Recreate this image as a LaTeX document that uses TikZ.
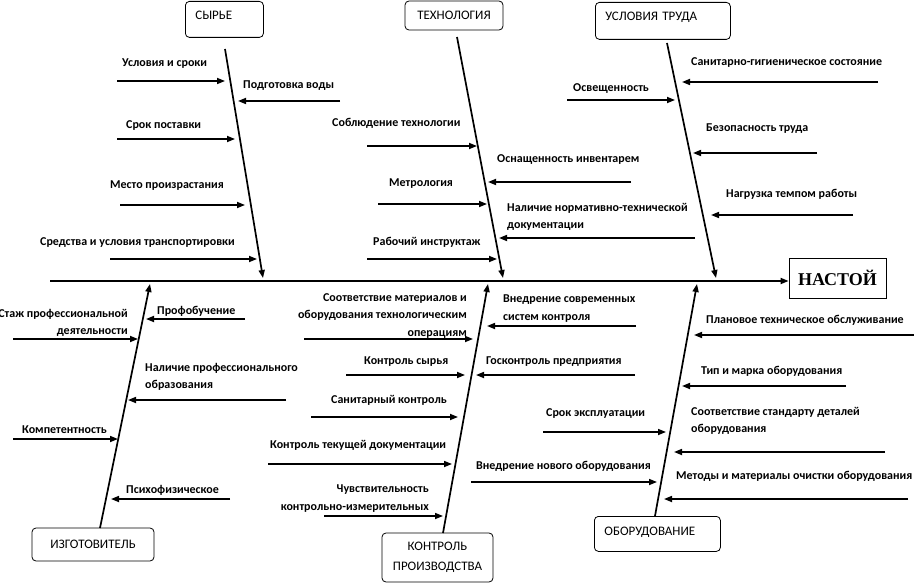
\documentclass[tikz,border=0pt]{standalone}
\usepackage{fontspec}
\setmainfont{Carlito}
\newfontfamily\headfont{Liberation Serif}
\usetikzlibrary{arrows.meta}
\newcommand\harrow[4]{\coordinate (#1s) at (#2,#4); \coordinate (#1e) at (#3,#4); \draw[sub] (#1s) -- (#1e);}
\begin{document}
\begin{tikzpicture}[x=1pt,y=-1pt,
  tip/.style={-{Triangle[length=8pt,width=6pt]}},
  bone/.style={line width=1.7pt, tip},
  sub/.style={line width=1.6pt, tip},
  lbl/.style={font=\fontsize{12}{17.5}\selectfont\bfseries, inner sep=0pt},
  cat/.style={draw, rounded corners=4pt, line width=0.8pt, font=\fontsize{13}{20}\selectfont, inner sep=0pt}]
\useasboundingbox (0,0) rectangle (914,583);

% category boxes
\node[cat, anchor=north west, inner xsep=10pt, text width=58pt, text height=18pt, text depth=18pt, align=left] (syr) at (185,1) {СЫРЬЕ};
\node[cat, minimum width=98pt, minimum height=29pt] (tech) at (454,15.5) {ТЕХНОЛОГИЯ};
\node[cat, anchor=north west, inner xsep=10pt, text width=115pt, text height=18pt, text depth=19pt, align=left] (usl) at (595,2) {УСЛОВИЯ ТРУДА};
\node[draw, line width=0.8pt, minimum width=97pt, minimum height=40pt, inner sep=0pt, font=\headfont\bfseries\fontsize{18}{20}\selectfont] (nast) at (837.5,278) {НАСТОЙ};
\node[cat, minimum width=122pt, minimum height=33pt] (izg) at (93,544.5) {ИЗГОТОВИТЕЛЬ};
\node[cat, minimum width=111pt, minimum height=49pt, align=center] (kontr) at (437.5,557.5) {КОНТРОЛЬ\\ПРОИЗВОДСТВА};
\node[cat, anchor=north west, inner xsep=10pt, text width=106pt, text height=19pt, text depth=16pt, align=left] (obor) at (594,516) {ОБОРУДОВАНИЕ};

% spine
\coordinate (sp0) at (50,281);
\draw[bone] (sp0) -- (nast.west |- sp0);

% bones
\coordinate (b1s) at (225,49);  \coordinate (b1e) at (263,278);
\coordinate (b2s) at (457,37);  \coordinate (b2e) at (503,278);
\coordinate (b3s) at (667,43);  \coordinate (b3e) at (716,278);
\coordinate (b4s) at (100,528); \coordinate (b4e) at (150,284);
\coordinate (b5s) at (443,533); \coordinate (b5e) at (488,284);
\coordinate (b6s) at (655,516); \coordinate (b6e) at (697,284);
\foreach \i in {1,...,6} \draw[bone] (b\i s) -- (b\i e);

% СЫРЬЕ
\harrow{a1}{117}{225}{81}
\harrow{a2}{340}{238}{101}
\harrow{a3}{117}{235}{139}
\harrow{a4}{120}{245}{205}
\harrow{a5}{110}{257}{259}
\node[lbl, anchor=base west] (l1) at (122,67) {Условия и сроки};
\node[lbl, anchor=base west] (l2) at (243,89) {Подготовка воды};
\node[lbl, anchor=base west] (l3) at (126,129) {Срок поставки};
\node[lbl, anchor=base west] (l4) at (110,189) {Место произрастания};
\node[lbl, anchor=base west] (l5) at (40,245) {Средства и условия транспортировки};

% ТЕХНОЛОГИЯ
\harrow{c1}{367}{477}{146}
\harrow{c2}{631}{488}{182}
\harrow{c3}{378}{487}{204}
\harrow{c4}{695}{499}{238}
\harrow{c5}{367}{497}{259}
\node[lbl, anchor=base west] (m1) at (332,127) {Соблюдение технологии};
\node[lbl, anchor=base west] (m2) at (497,163) {Оснащенность инвентарем};
\node[lbl, anchor=base west] (m3) at (389,187) {Метрология};
\node[lbl, anchor=north west, align=left] (m4) at (507,203) {Наличие нормативно-технической\\документации};
\node[lbl, anchor=base west] (m5) at (373,245) {Рабочий инструктаж};

% УСЛОВИЯ ТРУДА
\harrow{d1}{878}{682}{82}
\harrow{d2}{567}{675}{100}
\harrow{d3}{817}{693}{153}
\harrow{d4}{853}{711}{215}
\node[lbl, anchor=base west] (n1) at (691,66) {Санитарно-гигиеническое состояние};
\node[lbl, anchor=base west] (n2) at (573,92) {Освещенность};
\node[lbl, anchor=base west] (n3) at (706,132) {Безопасность труда};
\node[lbl, anchor=base west] (n4) at (726,198) {Нагрузка темпом работы};

% ИЗГОТОВИТЕЛЬ
\harrow{e1}{13}{138}{339}
\harrow{e2}{245}{146}{319}
\harrow{e3}{286}{128}{400}
\harrow{e4}{13}{118}{439}
\harrow{e5}{230}{111}{499}
\node[lbl, anchor=north east, align=right] (o1) at (128,309) {Стаж профессиональной\\деятельности};
\node[lbl, anchor=base west] (o2) at (157,314) {Профобучение};
\node[lbl, anchor=north west, align=left] (o3) at (145,363) {Наличие профессионального\\образования};
\node[lbl, anchor=base west] (o4) at (22,433) {Компетентность};
\node[lbl, anchor=base west] (o5) at (126,493) {Психофизическое};

% КОНТРОЛЬ ПРОИЗВОДСТВА
\harrow{f1}{304}{473}{339}
\harrow{f2}{636}{487}{326}
\harrow{f3}{346}{465}{375}
\harrow{f4}{635}{476}{375}
\harrow{f5}{311}{458}{417}
\harrow{f6}{268}{452}{464}
\harrow{f7}{324}{443}{516}
\node[lbl, anchor=north east, align=right] (p1) at (467,293) {Соответствие материалов и\\оборудования технологическим\\операциям};
\node[lbl, anchor=north west, align=left] (p2) at (503,295) {Внедрение современных\\систем контроля};
\node[lbl, anchor=base west] (p3) at (364,364) {Контроль сырья};
\node[lbl, anchor=base west] (p4) at (486,364) {Госконтроль предприятия};
\node[lbl, anchor=base west] (p5) at (331,403) {Санитарный контроль};
\node[lbl, anchor=base west] (p6) at (270,448) {Контроль текущей документации};
\node[lbl, anchor=north east, align=right] (p7) at (429,485) {Чувствительность\\контрольно-измерительных};

% ОБОРУДОВАНИЕ
\harrow{g1}{914}{694}{335}
\harrow{g2}{846}{682}{386}
\harrow{g3}{543}{666}{432}
\harrow{g4}{885}{674}{452}
\harrow{g5}{471}{657}{482}
\harrow{g6}{908}{664}{499}
\node[lbl, anchor=base west] (q1) at (706,323) {Плановое техническое обслуживание};
\node[lbl, anchor=base west] (q2) at (701,374) {Тип и марка оборудования};
\node[lbl, anchor=base west] (q3) at (546,416) {Срок эксплуатации};
\node[lbl, anchor=north west, align=left] (q4) at (691,407) {Соответствие стандарту деталей\\оборудования};
\node[lbl, anchor=base west] (q5) at (476,469) {Внедрение нового оборудования};
\node[lbl, anchor=base west] (q6) at (676,479) {Методы и материалы очистки оборудования};
\end{tikzpicture}
\end{document}
